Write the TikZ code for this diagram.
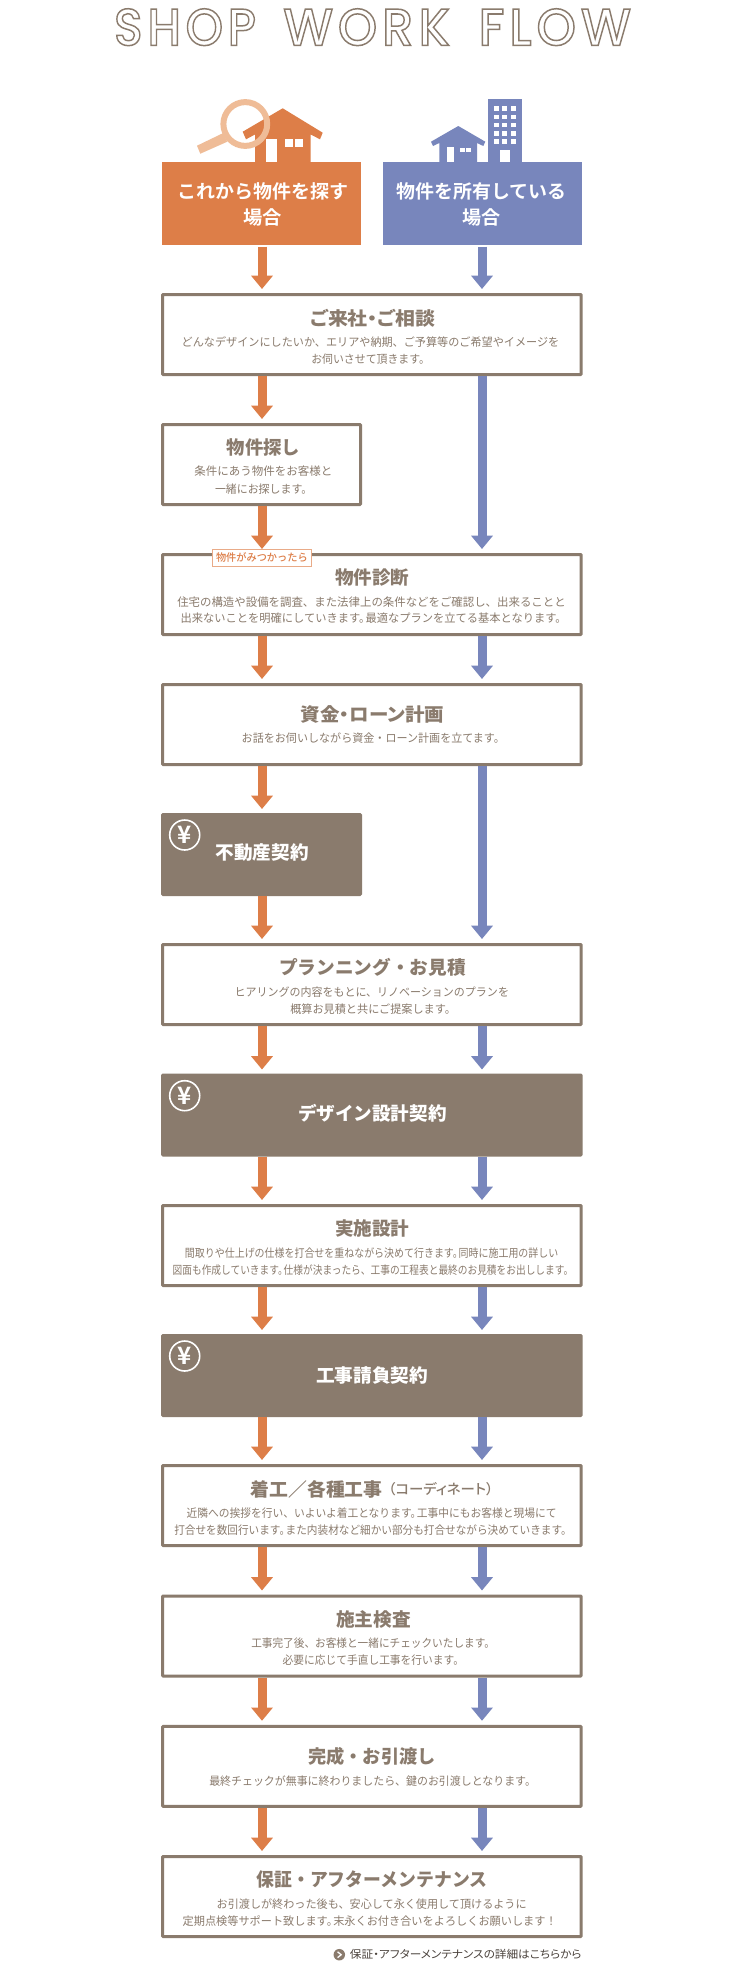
\documentclass[tikz,border=0pt]{standalone}
\usepackage{fontspec}
\usepackage{graphicx}
\usetikzlibrary{arrows.meta,calc}
\newfontfamily\jpr{Noto Sans CJK JP}
\newfontfamily\jpb{Noto Sans CJK JP Black}
\newfontfamily\jpbp[RawFeature=+palt]{Noto Sans CJK JP Black}
\newfontfamily\jpw{Noto Sans CJK JP Bold}
\newfontfamily\jpm{Noto Sans CJK JP Medium}
\newfontfamily\jprp[RawFeature=+palt]{Noto Sans CJK JP}
\newfontfamily\ttlfont{Poppins Medium}
\newcommand\tp{。\hspace{-.42em}}
\definecolor{cOrange}{HTML}{DD7E48}
\definecolor{cBlue}{HTML}{7886BC}
\definecolor{cBrown}{HTML}{8A7B6D}
\definecolor{cLens}{HTML}{EFBC97}
\definecolor{cDark}{HTML}{4A423C}
\tikzset{
  x=1pt,y=-1pt,
  widebox/.style={draw=cBrown,fill=white,line width=3pt,minimum width=418.7pt,minimum height=80pt,inner sep=0pt,outer sep=0pt,rounded corners=0.8pt},
  narrowbox/.style={widebox,minimum width=198pt},
  widepay/.style={widebox,fill=cBrown},
  narrowpay/.style={narrowbox,fill=cBrown},
  startbox/.style={minimum width=199pt,minimum height=83pt,inner sep=0pt,outer sep=0pt},
  orangearrow/.style={draw=cOrange,line width=9pt,shorten <=1.5pt,shorten >=5.5pt,-{Triangle[width=21pt,length=13.3pt,fill=cOrange]}},
  bluearrow/.style={draw=cBlue,line width=9pt,shorten <=1.5pt,shorten >=5.5pt,-{Triangle[width=21pt,length=13.3pt,fill=cBlue]}},
  titletext/.style={anchor=base,yshift=-6.7pt,inner sep=0pt,text=cBrown,font=\jpb\fontsize{18.5}{20}\selectfont},
  paytext/.style={titletext,text=white},
  subtitletext/.style={anchor=base,yshift=-5pt,inner sep=0pt,text=cBrown,font=\jpw\fontsize{14}{16}\selectfont},
  bodytext/.style={anchor=base,yshift=-4.2pt,inner sep=0pt,text=cBrown,font=\jpr\fontsize{11.5}{13}\selectfont},
  starttext/.style={anchor=base,yshift=-6.8pt,inner sep=0pt,text=white,font=\jpw\fontsize{18.7}{21}\selectfont},
  tagtext/.style={anchor=base,yshift=-3.7pt,inner sep=0pt,text=cOrange,font=\jpm\fontsize{10.5}{12}\selectfont},
  linktext/.style={anchor=base,yshift=-4pt,inner sep=0pt,text=cDark,font=\jprp\fontsize{11}{13}\selectfont},
  yencircle/.style={circle,draw=white,line width=1.6pt,minimum size=30pt,inner sep=0pt,text=white,font=\jpw\fontsize{24}{24}\selectfont},
}
\newcommand\fittext[6]{%
  \pgfmathsetmacro\mywid{#4-#3}%
  \pgfmathsetmacro\mycx{(#3+#4)/2}%
  \node[#2] (#1) at (\mycx,#5) {\resizebox{\mywid pt}{\height}{#6}};%
}
\newcommand\outlined[1]{{\color{white}\special{pdf:code 2 Tr 1.5 w 0.541 0.482 0.427 RG}#1\special{pdf:code 0 Tr 0 0 0 RG}}}
\begin{document}
\begin{tikzpicture}
\useasboundingbox (0,0) rectangle (746,1981);
\fill[white] (0,0) rectangle (746,1981);
\coordinate (ox) at (262,0);
\coordinate (bx) at (482,0);

% Title
\tikzset{headword/.style={anchor=base,inner sep=0pt,font=\ttlfont\fontsize{52}{56}\selectfont}}
\fittext{hw1}{headword}{114}{256}{45.3}{\outlined{\addfontfeature{LetterSpace=10}SHOP}}
\fittext{hw2}{headword}{283.4}{450}{45.3}{\outlined{\addfontfeature{LetterSpace=10}WORK}}
\fittext{hw3}{headword}{478.6}{631}{45.3}{\outlined{\addfontfeature{LetterSpace=10}FLOW}}

% Icons: orange house with magnifier
\fill[cOrange] (282.7,108.3) -- (322.7,132.7) -- (320,139.3) -- (310.7,134.5) -- (310.7,163) -- (255,163) -- (255,134.5) -- (246,139.3) -- (242.7,131.7) -- cycle;
\fill[white] (265.7,139.3) rectangle (277.3,163);
\fill[white] (285,139.3) rectangle (292.7,146.7);
\fill[white] (295,139.3) rectangle (302.7,146.7);
\fill[cLens] (197,145.7) -- (200.3,153.7) -- (227.3,141.7) -- (222.7,133.3) -- cycle;
\draw[cLens,line width=6pt] (245.3,124) circle[radius=21.9];
% Icons: blue house and tower
\fill[cBlue] (458.3,126) -- (485.3,141.7) -- (483.3,146) -- (477,143) -- (477,163) -- (439.3,163) -- (439.3,143) -- (433,146) -- (431,141.7) -- cycle;
\fill[white] (446.7,147.3) rectangle (454.3,163);
\fill[white] (459.7,147.7) rectangle (465,152.2);
\fill[white] (466.3,147.7) rectangle (471.3,152.2);
\fill[cBlue] (488,99) rectangle (521.7,163);
\foreach \rowy in {106.2,114.5,122.6,130.8,139}{
  \foreach \colx in {494.3,502.3,510.5}{
    \fill[white] (\colx,\rowy) rectangle (\colx+5,\rowy+4.7);
  }
}
\fill[white] (500.3,150) rectangle (509.7,163);

% Start boxes
\node[startbox,fill=cOrange] (s1) at (261.5,203.5) {};
\node[startbox,fill=cBlue] (s2) at (482,203.5) {};
\fittext{s1a}{starttext}{177.6}{348.3}{191.7}{これから物件を探す}
\fittext{s1b}{starttext}{243.1}{281.7}{217.7}{場合}
\fittext{s2a}{starttext}{396.6}{566.6}{191.7}{物件を所有している}
\fittext{s2b}{starttext}{462.8}{501}{217.7}{場合}

% Boxes
\node[widebox] (b1) at (371.85,334.5) {};
\node[narrowbox] (b2) at (261.5,464.5) {};
\node[widebox] (b3) at (371.85,594.5) {};
\node[widebox] (b4) at (371.85,724.5) {};
\node[narrowpay] (b5) at (261.5,854.5) {};
\node[widebox] (b6) at (371.85,984.5) {};
\node[widepay] (b7) at (371.85,1115) {};
\node[widebox] (b8) at (371.85,1245.5) {};
\node[widepay] (b9) at (371.85,1375.5) {};
\node[widebox] (b10) at (371.85,1505.5) {};
\node[widebox] (b11) at (371.85,1636) {};
\node[widebox] (b12) at (371.85,1766.3) {};
\node[widebox] (b13) at (371.85,1896.5) {};

% Texts
\fittext{t1}{titletext}{310.7}{435}{318.7}{\jpbp ご来社・ご相談}
\fittext{t1a}{bodytext}{181.7}{559.3}{342.7}{どんなデザインにしたいか、エリアや納期、ご予算等のご希望やイメージを}
\fittext{t1b}{bodytext}{311.3}{430}{359.3}{お伺いさせて頂きます。}

\fittext{t2}{titletext}{226.7}{300}{447.7}{物件探し}
\fittext{t2a}{bodytext}{194.3}{332.3}{471.7}{条件にあう物件をお客様と}
\fittext{t2b}{bodytext}{215}{312.3}{489}{一緒にお探します。}

\fittext{t3}{titletext}{335}{409.3}{577.3}{物件診断}
\fittext{t3a}{bodytext}{177.3}{565.7}{602}{住宅の構造や設備を調査、また法律上の条件などをご確認し、出来ることと}
\fittext{t3b}{bodytext}{180.7}{566.7}{618.7}{出来ないことを明確にしていきます\tp 最適なプランを立てる基本となります。}

\node[draw=cOrange!65,fill=white,line width=0.8pt,minimum width=98.6pt,minimum height=16.2pt,inner sep=0pt,outer sep=0pt] (tag) at (262,557.8) {};
\fittext{tagt}{tagtext}{216}{307.7}{557.8}{物件がみつかったら}

\fittext{t4}{titletext}{300.7}{444}{714.3}{\jpbp 資金・ローン計画}
\fittext{t4a}{bodytext}{241.7}{505}{738.7}{お話をお伺いしながら資金・ローン計画を立てます。}

\fittext{t5}{paytext}{215.7}{308.7}{853}{不動産契約}
\node[yencircle] (y5) at (184.7,835) {¥};

\fittext{t6}{titletext}{279.3}{466}{967.7}{プランニング・お見積}
\fittext{t6a}{bodytext}{234.7}{509}{992}{ヒアリングの内容をもとに、リノベーションのプランを}
\fittext{t6b}{bodytext}{290.3}{456}{1009.3}{概算お見積と共にご提案します。}

\fittext{t7}{paytext}{298}{446.7}{1113.3}{デザイン設計契約}
\node[yencircle] (y7) at (184.7,1095.7) {¥};

\fittext{t8}{titletext}{335}{409.3}{1228.3}{実施設計}
\fittext{t8a}{bodytext}{185}{558.3}{1253}{間取りや仕上げの仕様を打合せを重ねながら決めて行きます\tp 同時に施工用の詳しい}
\fittext{t8b}{bodytext}{172.7}{573.3}{1270}{図面も作成していきます\tp 仕様が決まったら、工事の工程表と最終のお見積をお出しします。}

\fittext{t9}{paytext}{316}{428}{1375.7}{工事請負契約}
\node[yencircle] (y9) at (184.7,1356) {¥};

\fittext{t10}{titletext}{250.7}{382.7}{1489.3}{着工／各種工事}
\fittext{t10s}{subtitletext}{388.3}{493.3}{1489.3}{\jpm\addfontfeature{RawFeature=+palt}（コーディネート）}
\fittext{t10a}{bodytext}{186.7}{556.7}{1513.3}{近隣への挨拶を行い、いよいよ着工となります\tp 工事中にもお客様と現場にて}
\fittext{t10b}{bodytext}{174.3}{571.7}{1530.7}{打合せを数回行います\tp また内装材など細かい部分も打合せながら決めていきます。}

\fittext{t11}{titletext}{336}{410.7}{1619.3}{施主検査}
\fittext{t11a}{bodytext}{251.3}{495}{1643.7}{工事完了後、お客様と一緒にチェックいたします。}
\fittext{t11b}{bodytext}{282.7}{464}{1660.7}{必要に応じて手直し工事を行います。}

\fittext{t12}{titletext}{308.3}{435.7}{1756.7}{完成・お引渡し}
\fittext{t12a}{bodytext}{209.3}{536}{1781}{最終チェックが無事に終わりましたら、鍵のお引渡しとなります。}

\fittext{t13}{titletext}{256.7}{487.3}{1880}{保証・アフターメンテナンス}
\fittext{t13a}{bodytext}{216.7}{526.7}{1904}{お引渡しが終わった後も、安心して永く使用して頂けるように}
\fittext{t13b}{bodytext}{182.7}{556.7}{1921.3}{定期点検等サポート致します\tp 末永くお付き合いをよろしくお願いします！}

% Footer link
\node[circle,fill=cBrown,minimum size=11.5pt,inner sep=0pt] (lk) at (339.3,1954.7) {};
\draw[white,line width=1.3pt] (337.6,1951.8) -- (341.2,1954.7) -- (337.6,1957.6);
\fittext{lkt}{linktext}{350}{581.7}{1954.7}{保証・アフターメンテナンスの詳細はこちらから}

% Orange route
\draw[orangearrow] (s1.south -| ox) -- (b1.north -| ox);
\draw[orangearrow] (b1.south -| ox) -- (b2.north -| ox);
\draw[orangearrow] (b2.south -| ox) -- (b3.north -| ox);
\draw[orangearrow] (b3.south -| ox) -- (b4.north -| ox);
\draw[orangearrow] (b4.south -| ox) -- (b5.north -| ox);
\draw[orangearrow] (b5.south -| ox) -- (b6.north -| ox);
\draw[orangearrow] (b6.south -| ox) -- (b7.north -| ox);
\draw[orangearrow] (b7.south -| ox) -- (b8.north -| ox);
\draw[orangearrow] (b8.south -| ox) -- (b9.north -| ox);
\draw[orangearrow] (b9.south -| ox) -- (b10.north -| ox);
\draw[orangearrow] (b10.south -| ox) -- (b11.north -| ox);
\draw[orangearrow] (b11.south -| ox) -- (b12.north -| ox);
\draw[orangearrow] (b12.south -| ox) -- (b13.north -| ox);
% Blue route
\draw[bluearrow] (s2.south -| bx) -- (b1.north -| bx);
\draw[bluearrow] (b1.south -| bx) -- (b3.north -| bx);
\draw[bluearrow] (b3.south -| bx) -- (b4.north -| bx);
\draw[bluearrow] (b4.south -| bx) -- (b6.north -| bx);
\draw[bluearrow] (b6.south -| bx) -- (b7.north -| bx);
\draw[bluearrow] (b7.south -| bx) -- (b8.north -| bx);
\draw[bluearrow] (b8.south -| bx) -- (b9.north -| bx);
\draw[bluearrow] (b9.south -| bx) -- (b10.north -| bx);
\draw[bluearrow] (b10.south -| bx) -- (b11.north -| bx);
\draw[bluearrow] (b11.south -| bx) -- (b12.north -| bx);
\draw[bluearrow] (b12.south -| bx) -- (b13.north -| bx);
\end{tikzpicture}
\end{document}
